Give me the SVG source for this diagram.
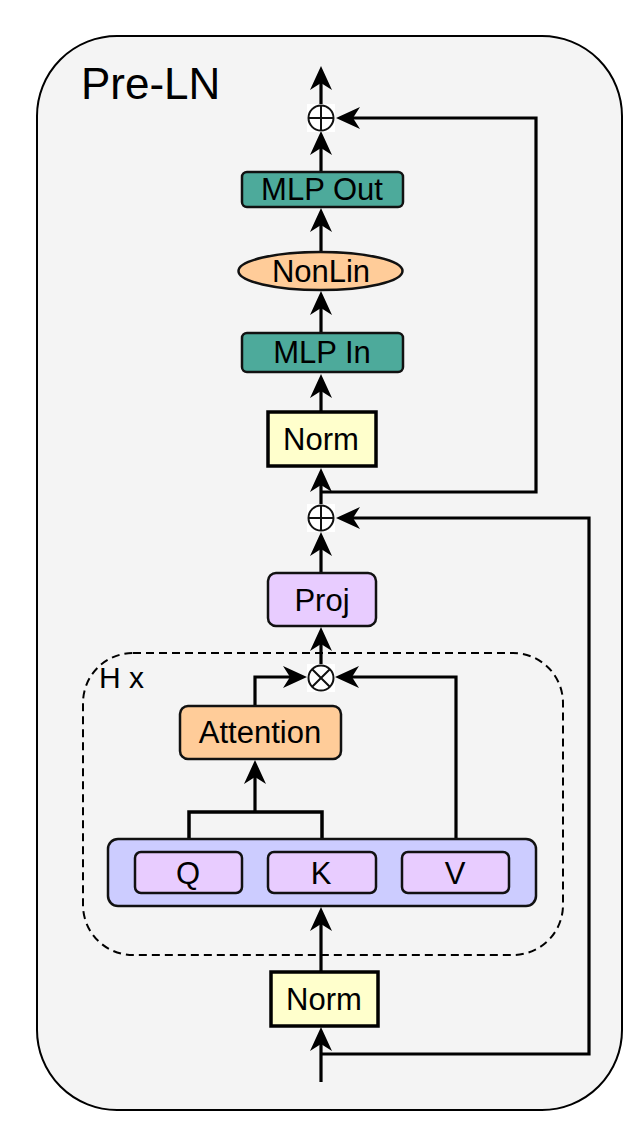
<svg xmlns="http://www.w3.org/2000/svg" width="642" height="1136" viewBox="0 0 642 1136">
<style>
text{font-family:"Liberation Sans",Arial,Helvetica,sans-serif;fill:#000;text-anchor:middle}
.lbl{font-size:31px}
.conn{fill:none;stroke:#000;stroke-width:3.2;marker-end:url(#arr)}
.plain{fill:none;stroke:#000;stroke-width:3.5}
.teal{fill:#4DAA9B;stroke:#111;stroke-width:2.5}
.purple{fill:#E8CCFF;stroke:#111;stroke-width:2.5}
.orange{fill:#FFCC99;stroke:#111;stroke-width:2.5}
.norm{fill:#FFFFCC;stroke:#000;stroke-width:3.5}
.op{fill:#fff;stroke:#111;stroke-width:2}
</style>
<defs>
<marker id="arr" markerUnits="userSpaceOnUse" markerWidth="26" markerHeight="24" viewBox="0 -12 26 24" refX="7" refY="0" orient="auto">
<path d="M24 0 L0 -11 L7 0 L0 11 Z" fill="#000"/>
</marker>
</defs>
<rect width="642" height="1136" fill="#fff"/>
<g id="frame">
<rect x="37" y="36" width="585" height="1074" rx="80" ry="80" fill="#F4F4F4" stroke="#000" stroke-width="2"/>
<text x="81" y="99" style="font-size:44px;text-anchor:start">Pre-LN</text>
</g>
<g id="heads">
<rect x="83" y="653" width="480" height="302" rx="50" ry="50" fill="none" stroke="#000" stroke-width="2" stroke-dasharray="8 5"/>
<text x="99" y="688" style="font-size:30px;text-anchor:start">H x</text>
</g>
<g id="connectors">
<path class="conn" d="M321 105 V83"/>
<path class="conn" d="M321 172 V148"/>
<path class="conn" d="M321 252 V225"/>
<path class="conn" d="M321 333 V308"/>
<path class="conn" d="M321 412 V391"/>
<path class="conn" d="M321 505 V485"/>
<path class="conn" d="M321 492 H536 V118 H353"/>
<path class="conn" d="M321 573 V549"/>
<path class="conn" d="M321 664 V644"/>
<path class="conn" d="M321 1082 V1044"/>
<path class="conn" d="M321 1054 H589 V518 H353"/>
<path class="conn" d="M321 972 V924"/>
<path class="conn" d="M255 706 V677 H290"/>
<path class="conn" d="M456 852 V677 H352"/>
<path class="plain" d="M189 852 V812 H322 V852"/>
<path class="conn" d="M255 812 V777"/>
</g>
<g id="add-top">
<rect x="307" y="104" width="28" height="28" fill="#fff"/>
<circle class="op" cx="321" cy="118" r="12.5"/>
<path d="M308.5 118 H333.5 M321 105.5 V130.5" stroke="#111" stroke-width="2"/>
</g>
<g id="mlp-out">
<rect class="teal" x="242" y="172" width="161" height="35" rx="5"/>
<text class="lbl" x="322" y="200">MLP Out</text>
</g>
<g id="nonlin">
<ellipse class="orange" cx="320.5" cy="271" rx="82" ry="19"/>
<text class="lbl" x="321" y="282">NonLin</text>
</g>
<g id="mlp-in">
<rect class="teal" x="242" y="333" width="161" height="39" rx="5"/>
<text class="lbl" x="322" y="363">MLP In</text>
</g>
<g id="norm-top">
<rect class="norm" x="268" y="412" width="108" height="54"/>
<text class="lbl" x="321" y="450">Norm</text>
</g>
<g id="add-mid">
<rect x="307" y="504" width="28" height="28" fill="#fff"/>
<circle class="op" cx="321" cy="518" r="12.5"/>
<path d="M308.5 518 H333.5 M321 505.5 V530.5" stroke="#111" stroke-width="2"/>
</g>
<g id="proj">
<rect class="purple" x="268" y="573" width="108" height="53" rx="8"/>
<text class="lbl" x="322" y="611">Proj</text>
</g>
<g id="mul">
<rect x="307" y="664" width="28" height="28" fill="#fff"/>
<circle class="op" cx="321" cy="678" r="12.5"/>
<path d="M312.2 669.2 L329.8 686.8 M329.8 669.2 L312.2 686.8" stroke="#111" stroke-width="2"/>
</g>
<g id="attention">
<rect class="orange" x="180" y="706" width="161" height="53" rx="8"/>
<text class="lbl" x="260" y="743">Attention</text>
</g>
<g id="qkv">
<rect x="108" y="839" width="428" height="67" rx="10" fill="#CCCCFF" stroke="#111" stroke-width="2.5"/>
</g>
<g id="q">
<rect class="purple" x="135" y="852" width="107" height="41" rx="6"/>
<text class="lbl" x="188" y="884">Q</text>
</g>
<g id="k">
<rect class="purple" x="268" y="852" width="108" height="41" rx="6"/>
<text class="lbl" x="321" y="884">K</text>
</g>
<g id="v">
<rect class="purple" x="402" y="852" width="107" height="41" rx="6"/>
<text class="lbl" x="455" y="884">V</text>
</g>
<g id="norm-bottom">
<rect class="norm" x="271" y="972" width="107" height="54"/>
<text class="lbl" x="324" y="1010">Norm</text>
</g>
</svg>
